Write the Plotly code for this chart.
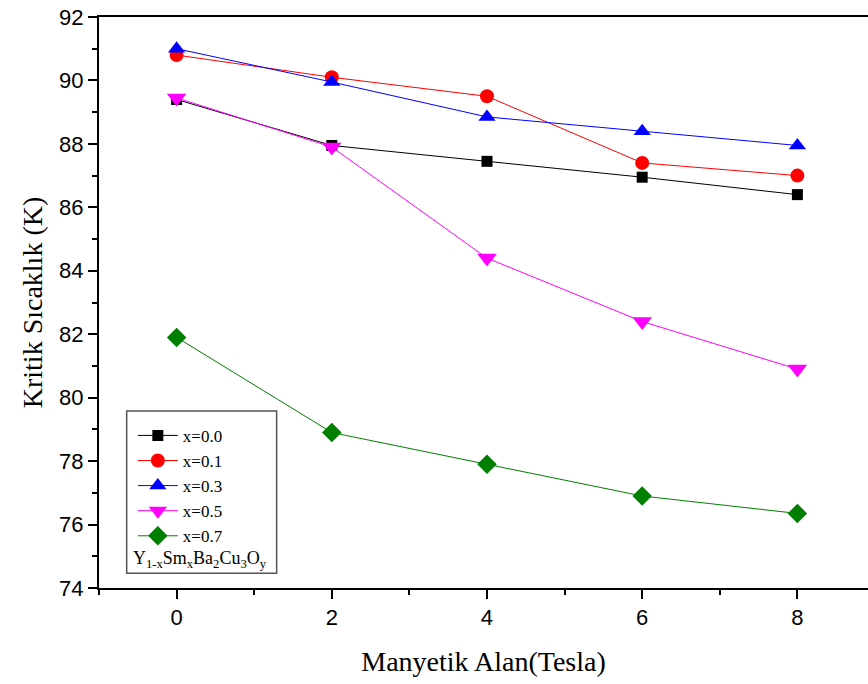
import plotly.graph_objects as go

field = [0, 2, 4, 6, 8]
names = ["x=0.0", "x=0.1", "x=0.3", "x=0.5", "x=0.7"]
tc_00 = [89.4, 87.95, 87.45, 86.95, 86.4]
tc_01 = [90.8, 90.1, 89.5, 87.4, 87.0]
tc_03 = [91.0, 89.95, 88.85, 88.4, 87.95]
tc_05 = [89.45, 87.9, 84.4, 82.4, 80.9]
tc_07 = [81.9, 78.9, 77.9, 76.9, 76.35]
series = [tc_00, tc_01, tc_03, tc_05, tc_07]
colors = ["#000000", "#ff0000", "#0000ff", "#ff00ff", "#007f00"]
symbols = ["square", "circle", "triangle-up", "triangle-down", "diamond"]
sizes = [11, 14, 15, 17, 15]

fig = go.Figure()
for n, s, c, sym, sz in zip(names, series, colors, symbols, sizes):
    fig.add_trace(go.Scatter(x=field, y=s, name=n, mode="lines+markers",
                             line=dict(color=c, width=1),
                             marker=dict(symbol=sym, size=sz, color=c)))

fig.update_layout(
    width=868, height=684,
    margin=dict(l=99, r=0, t=17, b=96),
    plot_bgcolor="white", paper_bgcolor="white",
    showlegend=True,
    legend=dict(x=0.044, y=0.298, xanchor="left", yanchor="top",
                bgcolor="rgba(255,255,255,0)", tracegroupgap=0,
                font=dict(family="Liberation Serif", size=17, color="black"),
                itemwidth=40),
    xaxis=dict(range=[-1, 8.91], tick0=0, dtick=2, showgrid=False, zeroline=False,
               showline=True, linecolor="black", linewidth=2, mirror=True,
               ticks="outside", ticklen=9, tickwidth=2, tickcolor="black",
               minor=dict(dtick=1, tick0=1, ticks="outside", ticklen=5, tickwidth=2, tickcolor="black"),
               tickfont=dict(family="Liberation Sans", size=22, color="black"),
               title=dict(text="Manyetik Alan(Tesla)", standoff=22,
                          font=dict(family="Liberation Serif", size=28, color="black"))),
    yaxis=dict(range=[74, 92], tick0=74, dtick=2, showgrid=False, zeroline=False,
               showline=True, linecolor="black", linewidth=2,
               ticks="outside", ticklen=9, tickwidth=2, tickcolor="black",
               minor=dict(dtick=1, tick0=75, ticks="outside", ticklen=5, tickwidth=2, tickcolor="black"),
               tickfont=dict(family="Liberation Sans", size=22, color="black"),
               title=dict(text="Kritik Sıcaklık (K)", standoff=8,
                          font=dict(family="Liberation Serif", size=28, color="black"))),
)

fig.add_shape(type="rect", xref="paper", yref="paper",
              x0=0.036, x1=0.231, y0=0.026, y1=0.31,
              line=dict(color="#555555", width=1.5), fillcolor="rgba(0,0,0,0)", layer="below")
fig.add_annotation(xref="paper", yref="paper", x=0.041, y=0.05, xanchor="left", yanchor="middle",
                   text="Y<sub>1-x</sub>Sm<sub>x</sub>Ba<sub>2</sub>Cu<sub>3</sub>O<sub>y</sub>",
                   showarrow=False, font=dict(family="Liberation Serif", size=18, color="black"))

fig.write_html("out.html")
